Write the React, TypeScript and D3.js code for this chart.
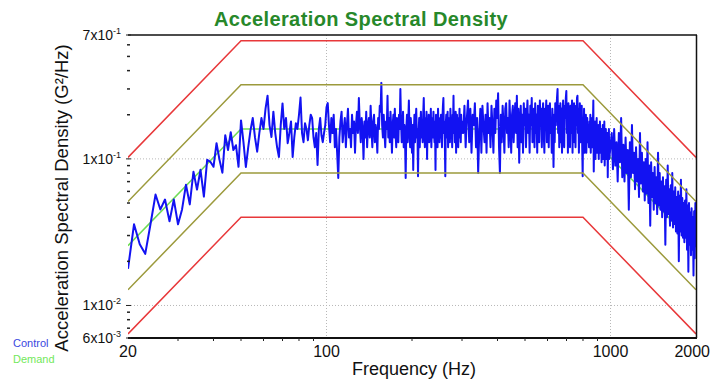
import React from 'react';
import * as d3 from 'd3';

// ---- Test profile (breakpoints) ----
const profileFreq = [20, 50, 800, 2000];
const demandPsd = [0.0256, 0.16, 0.16, 0.0256];
const tolUpperPsd = [0.0512, 0.32, 0.32, 0.0512];
const tolLowerPsd = [0.0128, 0.08, 0.08, 0.0128];
const abortUpperPsd = [0.1024, 0.64, 0.64, 0.1024];
const abortLowerPsd = [0.0064, 0.04, 0.04, 0.0064];

// ---- Control spectrum (G²/Hz), in frequency bands ----
const controlBandStart = [20, 51, 101, 303, 1010];
const controlBandStep = [1, 1, 1, 3, 10];
const controlBandA = [0.0178, 0.0358, 0.0262, 0.0225, 0.0358, 0.0571, 0.0452, 0.0528, 0.0375, 0.0528,
  0.0358, 0.0452, 0.0667, 0.0489, 0.0817, 0.0617, 0.0843, 0.0553, 0.0985, 0.0955,
  0.0883, 0.128, 0.0985, 0.0804, 0.145, 0.115, 0.152, 0.115, 0.124, 0.0883, 0.183];
const controlBandB = [
  .13, .088, .12, .157, .19, .14, .112, .15, .19, .16,
  .22, .27, .17, .141, .21, .15, .12, .103, .17, .239,
  .16, .19, .128, .15, .18, .103, .14, .175, .16, .2,
  .262, .15, .13, .175, .16, .134, .17, .2, .19, .14,
  .12, .15, .091, .16, .19, .145, .13, .15, .17, .225];
const controlBandC = [
  .24, .17, .13, .19, .15, .2, .12, .16, .11, .074,
  .14, .18, .21, .13, .16, .19, .12, .17, .22, .14,
  .16, .12, .2, .15, .18, .11, .17, .21, .15, .26,
  .17, .13, .19, .16, .1, .18, .14, .21, .12, .17,
  .19, .14, .23, .16, .12, .18, .2, .13, .17, .15,
  .11, .19, .16, .23, .21, .33, .17, .14, .2, .15,
  .12, .18, .16, .27, .14, .19, .13, .21, .16, .11,
  .17, .2, .14, .22, .15, .12, .19, .17, .13, .2,
  .16, .3, .18, .13, .15, .21, .12, .17, .14, .074,
  .16, .2, .13, .18, .25, .15, .12, .19, .16, .11,
  .17, .084, .15, .2, .13, .18, .22, .14, .16, .076,
  .15, .19, .12, .17, .21, .14, .18, .13, .2, .26,
  .16, .12, .19, .15, .21, .1, .17, .14, .2, .13,
  .18, .15, .22, .12, .17, .19, .14, .21, .16, .13,
  .18, .084, .2, .15, .17, .12, .22, .16, .19, .13,
  .17, .14, .2, .16, .12, .19, .23, .26, .15, .18,
  .13, .076, .17, .2, .14, .16, .21, .12, .18, .15,
  .19, .13, .22, .16, .14, .18, .12, .2, .17, .27,
  .15, .19, .13, .17, .21, .11, .16, .2, .14, .18,
  .12, .19, .16, .22, .14, .17, .13, .2, .15, .18];
const controlBandD = [
  .15, .23, .12, .19, .25, .13, .22, .11, .2, .17,
  .24, .12, .19, .08, .15, .22, .11, .23, .17, .13,
  .2, .11, .24, .15, .19, .12, .23, .17, .11, .22,
  .15, .25, .19, .28, .12, .08, .2, .13, .23, .17,
  .11, .22, .24, .15, .19, .12, .25, .17, .11, .2,
  .23, .13, .19, .24, .15, .27, .12, .22, .094, .17,
  .23, .13, .2, .11, .24, .17, .22, .12, .19, .25,
  .15, .2, .11, .23, .17, .26, .13, .19, .22, .12,
  .24, .15, .2, .11, .23, .19, .13, .25, .17, .22,
  .12, .2, .24, .15, .11, .22, .19, .25, .13, .17,
  .23, .12, .2, .24, .15, .19, .11, .22, .17, .088,
  .2, .13, .24, .17, .22, .26, .3, .15, .23, .12,
  .19, .24, .13, .22, .11, .2, .25, .17, .12, .23,
  .19, .26, .29, .15, .22, .11, .24, .17, .2, .12,
  .23, .15, .19, .25, .11, .22, .17, .24, .13, .2,
  .12, .23, .17, .26, .27, .15, .22, .11, .19, .24,
  .13, .2, .17, .23, .12, .076, .19, .15, .22, .11,
  .18, .14, .2, .11, .16, .19, .13, .17, .15, .12,
  .18, .13, .2, .11, .16, .14, .19, .12, .17, .25,
  .082, .15, .12, .18, .1, .16, .13, .19, .11, .15,
  .12, .17, .1, .15, .13, .18, .11, .14, .16, .095,
  .14, .12, .17, .1, .15, .12, .18, .09, .14, .11,
  .16, .1, .13, .12, .15, .075, .13, .11, .16, .1];
const controlBandE = [
  .15, .085, .16, .09, .13, .07, .15, .095, .19, .075,
  .125, .07, .14, .08, .115, .045, .13, .075, .17, .08,
  .11, .062, .12, .07, .1, .055, .15, .068, .11, .06,
  .095, .052, .1, .058, .13, .05, .09, .035, .095, .055,
  .08, .045, .088, .05, .075, .042, .11, .048, .08, .045,
  .07, .04, .075, .044, .065, .026, .072, .04, .09, .042,
  .062, .035, .066, .038, .08, .034, .06, .036, .064, .032,
  .055, .031, .06, .02, .056, .032, .072, .03, .054, .029,
  .05, .027, .052, .029, .062, .024, .048, .017, .05, .026,
  .043, .022, .046, .024, .04, .016, .044, .021, .05, .025];
const controlBands = [controlBandA, controlBandB, controlBandC, controlBandD, controlBandE];

// ---- Axes ----
const xTickValues = [20, 100, 1000, 2000];
const xTickLabels = ['20', '100', '1000', '2000'];
const xMinorTicks = [30, 40, 50, 60, 70, 80, 90, 200, 300, 400, 500, 600, 700, 800, 900];
const yTickValues = [0.7, 0.1, 0.01, 0.006];
const yTickMantissa = ['7', '1', '1', '6'];
const yTickExponent = ['-1', '-1', '-2', '-3'];
const yMinorTicks = [0.2, 0.3, 0.4, 0.5, 0.6, 0.02, 0.03, 0.04, 0.05, 0.06, 0.07, 0.08, 0.09, 0.007, 0.008, 0.009];
const xGrid = [100, 1000];
const yGrid = [0.1, 0.01];

const W = 712, H = 381;
const L = 128, R = 696, T = 35, B = 338;
const FONT = 'Liberation Sans, Arial, Helvetica, sans-serif';

export default function App() {
  const x = d3.scaleLog().domain([20, 2000]).range([L, R]);
  const y = d3.scaleLog().domain([0.006, 0.7]).range([B, T]);

  const control: [number, number][] = [];
  controlBands.forEach((vals, b) => {
    vals.forEach((v, i) => control.push([controlBandStart[b] + i * controlBandStep[b], v]));
  });

  const line = d3.line<[number, number]>().x(d => x(d[0])).y(d => y(d[1]));
  const prof = (vals: number[]) => line(profileFreq.map((f, i) => [f, vals[i]] as [number, number])) || '';

  return (
    <svg width={W} height={H} style={{ position: 'fixed', left: 0, top: 0, background: '#fff' }} fontFamily={FONT}>
      <defs>
        <clipPath id="plot"><rect x={L} y={T} width={R - L} height={B - T} /></clipPath>
      </defs>
      <rect x={0} y={0} width={W} height={H} fill="#fff" />

      {xGrid.map(f => (
        <line key={'gx' + f} x1={x(f)} x2={x(f)} y1={T} y2={B} stroke="#b8b8b8" strokeWidth={1} strokeDasharray="1,2" />
      ))}
      {yGrid.map(v => (
        <line key={'gy' + v} x1={L} x2={R} y1={y(v)} y2={y(v)} stroke="#b8b8b8" strokeWidth={1} strokeDasharray="1,2" />
      ))}

      <g clipPath="url(#plot)">
        <path d={prof(demandPsd)} fill="none" stroke="#6fdc55" strokeWidth={1.5} />
        <path d={line(control) || ''} fill="none" stroke="#1212f2" strokeWidth={2} strokeLinejoin="round" />
        <path d={prof(tolUpperPsd)} fill="none" stroke="#9c9a3c" strokeWidth={1.5} />
        <path d={prof(tolLowerPsd)} fill="none" stroke="#9c9a3c" strokeWidth={1.5} />
        <path d={prof(abortUpperPsd)} fill="none" stroke="#e8383a" strokeWidth={1.5} />
        <path d={prof(abortLowerPsd)} fill="none" stroke="#e8383a" strokeWidth={1.5} />
      </g>

      <line x1={L} x2={R + 1} y1={T} y2={T} stroke="#111" strokeWidth={1.5} />
      <line x1={R + 0.5} x2={R + 0.5} y1={T} y2={B} stroke="#111" strokeWidth={1.5} />
      <line x1={L} x2={R + 1} y1={B} y2={B} stroke="#111" strokeWidth={2} />

      {yMinorTicks.map(v => (
        <line key={'ym' + v} x1={L - 1} x2={L + 2} y1={y(v)} y2={y(v)} stroke="#222" strokeWidth={1.5} />
      ))}
      {yTickValues.map((v, i) => (
        <g key={'yt' + v}>
          <line x1={L - 2} x2={L + 3} y1={y(v)} y2={y(v)} stroke="#222" strokeWidth={1} />
          <text x={121} y={y(v) + 5} textAnchor="end" fontSize={14} fill="#111">
            {yTickMantissa[i]}x10<tspan fontSize={9} dy={-6}>{yTickExponent[i]}</tspan>
          </text>
        </g>
      ))}

      {xMinorTicks.map(f => (
        <line key={'xm' + f} x1={x(f)} x2={x(f)} y1={B} y2={B + 3} stroke="#222" strokeWidth={1} />
      ))}
      {xTickValues.map((f, i) => (
        <text key={'xt' + f} x={i === xTickValues.length - 1 ? 710 : x(f)} y={357}
          textAnchor={i === xTickValues.length - 1 ? 'end' : 'middle'} fontSize={16} fill="#111">{xTickLabels[i]}</text>
      ))}

      <text x={361} y={26} textAnchor="middle" fontSize={20} fontWeight="bold" fill="#27882a" letterSpacing={0.4}>
        Acceleration Spectral Density
      </text>
      <text x={414} y={375} textAnchor="middle" fontSize={18} fill="#111">Frequency (Hz)</text>
      <text transform="translate(68,198) rotate(-90)" textAnchor="middle" fontSize={18.5} fill="#111">
        Acceleration Spectral Density (G²/Hz)
      </text>

      <text x={13} y={347} fontSize={11} fill="#3a48e0">Control</text>
      <text x={13} y={363} fontSize={11} fill="#72e85a">Demand</text>
    </svg>
  );
}
